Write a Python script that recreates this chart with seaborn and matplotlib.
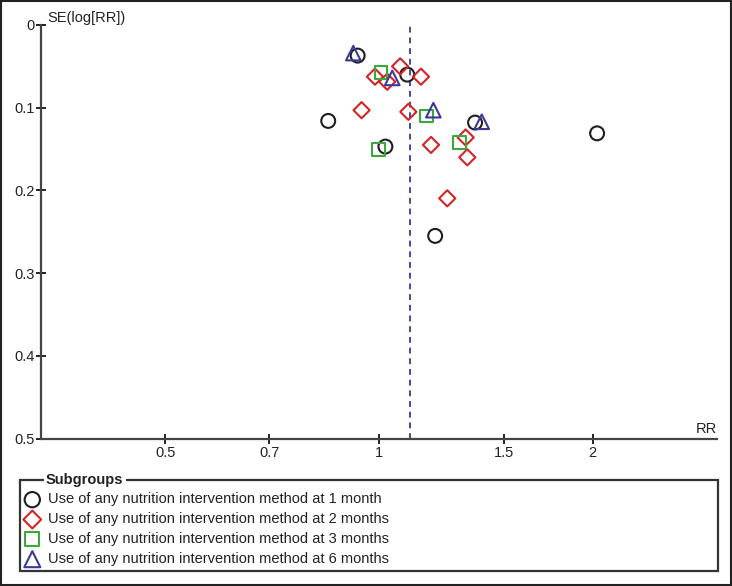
import numpy as np
import pandas as pd
import matplotlib
matplotlib.use("Agg")
import matplotlib.pyplot as plt
import seaborn as sns
from matplotlib.patches import Rectangle
from matplotlib.ticker import NullLocator

# значения (funnel plot)
rr_1m = [0.933, 1.096, 0.848, 1.366, 1.021, 1.20, 2.03]
se_1m = [0.037, 0.060, 0.116, 0.118, 0.147, 0.255, 0.131]

rr_2m = [1.071, 0.987, 1.027, 1.146, 0.945, 1.10, 1.325, 1.184, 1.332, 1.248]
se_2m = [0.050, 0.0625, 0.0686, 0.0625, 0.103, 0.105, 0.136, 0.145, 0.160, 0.2096]

rr_3m = [1.0065, 1.167, 1.297, 0.999]
se_3m = [0.0577, 0.110, 0.142, 0.151]

rr_6m = [0.92, 1.044, 1.193, 1.396]
se_6m = [0.034, 0.064, 0.103, 0.117]

pooled_rr = 1.106

group_labels = [
    "Use of any nutrition intervention method at 1 month",
    "Use of any nutrition intervention method at 2 months",
    "Use of any nutrition intervention method at 3 months",
    "Use of any nutrition intervention method at 6 months",
]
x_ticks = [0.5, 0.7, 1, 1.5, 2]
x_tick_labels = ["0.5", "0.7", "1", "1.5", "2"]
y_ticks = [0, 0.1, 0.2, 0.3, 0.4, 0.5]
y_tick_labels = ["0", "0.1", "0.2", "0.3", "0.4", "0.5"]

frames = []
for lab, rr, se in zip(group_labels, [rr_1m, rr_2m, rr_3m, rr_6m], [se_1m, se_2m, se_3m, se_6m]):
    frames.append(pd.DataFrame({"RR": rr, "SE": se, "group": lab}))
df = pd.concat(frames, ignore_index=True)

markers = ["o", "D", "s", "^"]
colors = ["#1e1e1e", "#d42424", "#3da63d", "#3a3a9c"]
sizes = [100, 68, 85, 110]

sns.set_style("white")
plt.rcParams["font.family"] = ["Liberation Sans", "DejaVu Sans"]

W, H = 732, 586
fig = plt.figure(figsize=(W / 100, H / 100), dpi=100)
ax = fig.add_axes([40.6 / W, 1 - 438.5 / H, 676.8 / W, 413.5 / H])

for lab, m, c, s in zip(group_labels, markers, colors, sizes):
    sns.scatterplot(data=df[df["group"] == lab], x="RR", y="SE", marker=m, s=s,
                    facecolors="none", edgecolor=c, linewidth=1.5, label=lab,
                    ax=ax, legend=False)

ax.axvline(pooled_rr, color="#4646a8", linestyle=(0, (3, 2.5)), linewidth=1.4, zorder=0)

ax.set_xscale("log")
ax.set_xlim(1 / 3, 3)
ax.set_ylim(0.5, 0)
ax.set_xticks(x_ticks)
ax.set_xticklabels(x_tick_labels)
ax.xaxis.set_minor_locator(NullLocator())
ax.set_yticks(y_ticks)
ax.set_yticklabels(y_tick_labels)
ax.set_xlabel("")
ax.set_ylabel("")

for side in ["top", "right"]:
    ax.spines[side].set_visible(False)
for side in ["left", "bottom"]:
    ax.spines[side].set_color("#444444")
    ax.spines[side].set_linewidth(1.6)
ax.tick_params(axis="both", which="major", bottom=True, left=True, direction="inout",
               length=6.5, width=1.4, color="#222222", labelsize=10.5, labelcolor="#222222")
ax.tick_params(axis="x", pad=2)
ax.tick_params(axis="y", pad=1)

ax.annotate("SE(log[RR])", xy=(0, 1), xycoords="axes fraction", xytext=(5, 2),
            textcoords="offset points", ha="left", va="baseline", fontsize=10.5, color="#222222")
ax.annotate("RR", xy=(1, 0), xycoords="axes fraction", xytext=(0, 4),
            textcoords="offset points", ha="right", va="baseline", fontsize=10.5, color="#222222")

# рамка легенды в стиле RevMan
fig.patches.append(Rectangle((20 / W, 1 - 571 / H), 698 / W, 91 / H, transform=fig.transFigure,
                             fill=False, edgecolor="#333333", linewidth=1.6))
fig.text(46 / W, 1 - 480 / H, "Subgroups", fontsize=10.5, fontweight="bold", color="#222222",
         ha="left", va="center", bbox=dict(facecolor="white", edgecolor="none", pad=1.5))

handles, labels = ax.get_legend_handles_labels()
fig.legend(handles, labels, loc="upper left", bbox_to_anchor=(25 / W, 1 - 492.5 / H),
           frameon=False, fontsize=10.5, handlelength=1.0, handletextpad=0.55,
           labelspacing=0.4, borderpad=0, borderaxespad=0, labelcolor="#222222",
           markerscale=1.1)

# внешняя рамка картинки
fig.patches.append(Rectangle((0.001, 0.001), 0.997, 0.997, transform=fig.transFigure,
                             fill=False, edgecolor="#222222", linewidth=1.5))

fig.savefig("out.png", dpi=100)
